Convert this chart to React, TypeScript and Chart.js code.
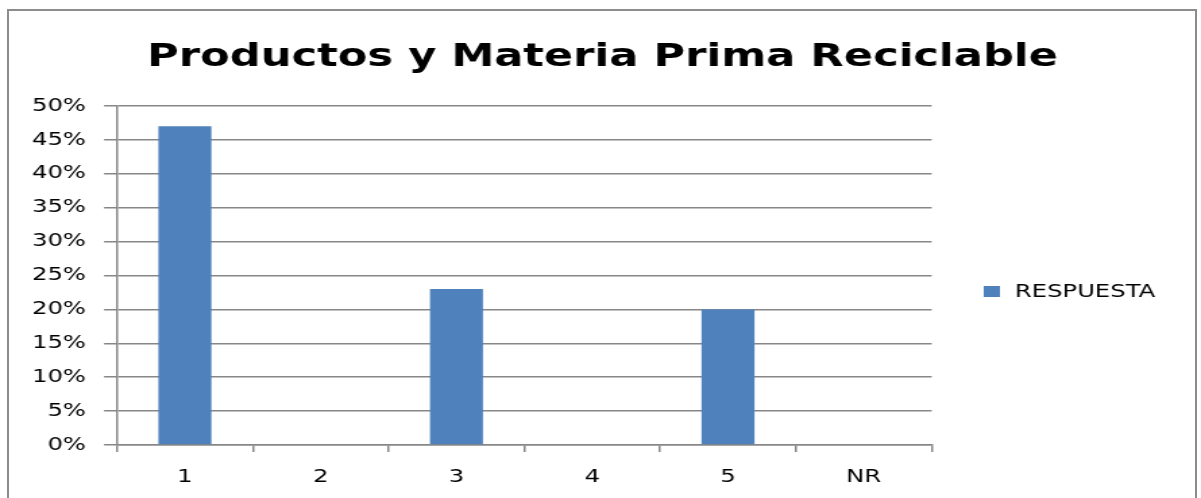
import React, { useEffect, useRef } from "react";
import { Chart, registerables } from "chart.js";

Chart.register(...registerables);

const categories = ["1", "2", "3", "4", "5", "NR"];
const respuesta = [47, 0, 23, 0, 20, 0];
const seriesLabel = "RESPUESTA";
const titleText = "Productos y Materia Prima Reciclable";
const yMin = 0;
const yMax = 50;
const yStep = 5;

const W = 890;
const H = 498;
const SX = 1201 / W;
const FONT = "'DejaVu Sans', sans-serif";
const GRID = "#878787";
const BAR = "#4F81BD";

const decorPlugin = {
  id: "decor",
  afterDraw(chart: any) {
    const ctx = chart.ctx;
    const ds = chart.data.datasets[0];
    ctx.save();
    // title
    ctx.fillStyle = "#000";
    ctx.font = `bold 32px ${FONT}`;
    ctx.textAlign = "center";
    ctx.textBaseline = "alphabetic";
    ctx.fillText(titleText, 446.5, 66);
    // legend
    ctx.fillStyle = ds.backgroundColor;
    ctx.fillRect(729, 286, 12, 11);
    ctx.fillStyle = "#000";
    ctx.font = `18px ${FONT}`;
    ctx.textBaseline = "middle";
    ctx.textAlign = "left";
    ctx.fillText(ds.label, 752, 292);
    ctx.restore();
  },
};

export default function App() {
  const ref = useRef<HTMLCanvasElement | null>(null);
  useEffect(() => {
    if (!ref.current) return;
    const chart = new Chart(ref.current, {
      type: "bar",
      data: {
        labels: categories,
        datasets: [
          {
            label: seriesLabel,
            data: respuesta,
            backgroundColor: BAR,
            borderWidth: 0,
            barPercentage: 0.39,
            categoryPercentage: 1,
          },
        ],
      },
      options: {
        animation: false,
        responsive: false,
        devicePixelRatio: 1,
        events: [],
        layout: { padding: { left: 0, right: W - 690.4, top: 106, bottom: 0 } },
        plugins: {
          legend: { display: false },
          tooltip: { enabled: false },
          title: { display: false },
        },
        scales: {
          x: {
            offset: true,
            grid: {
              display: true,
              drawOnChartArea: false,
              drawTicks: true,
              tickLength: 7,
              color: GRID,
              lineWidth: 1.5,
              offset: true,
            },
            border: { display: true, color: GRID, width: 1.5 },
            ticks: {
              color: "#000",
              font: { family: FONT, size: 18 },
              padding: 15,
              maxRotation: 0,
            },
            afterFit(scale: any) {
              scale.height = H - 445;
            },
          },
          y: {
            min: yMin,
            max: yMax,
            grid: {
              color: GRID,
              lineWidth: 1.5,
              drawTicks: true,
              tickLength: 9.6,
            },
            border: { display: true, color: GRID, width: 1.5 },
            ticks: {
              stepSize: yStep,
              color: "#000",
              font: { family: FONT, size: 18 },
              padding: 13.4,
              callback: (v: any) => `${v}%`,
            },
            afterFit(scale: any) {
              scale.width = 86.7;
            },
          },
        },
      },
      plugins: [decorPlugin],
    });
    return () => chart.destroy();
  }, []);

  return (
    <div
      style={{
        position: "fixed",
        left: 0,
        top: 0,
        width: 1201,
        height: 498,
        overflow: "hidden",
        background: "#fff",
      }}
    >
      <div
        style={{
          position: "absolute",
          left: 7,
          top: 9,
          width: 1186,
          height: 600,
          border: "2px solid #8c8c8c",
        }}
      />
      <canvas
        ref={ref}
        width={W}
        height={H}
        style={{
          position: "absolute",
          left: 0,
          top: 0,
          transform: `scaleX(${SX})`,
          transformOrigin: "0 0",
        }}
      />
    </div>
  );
}
